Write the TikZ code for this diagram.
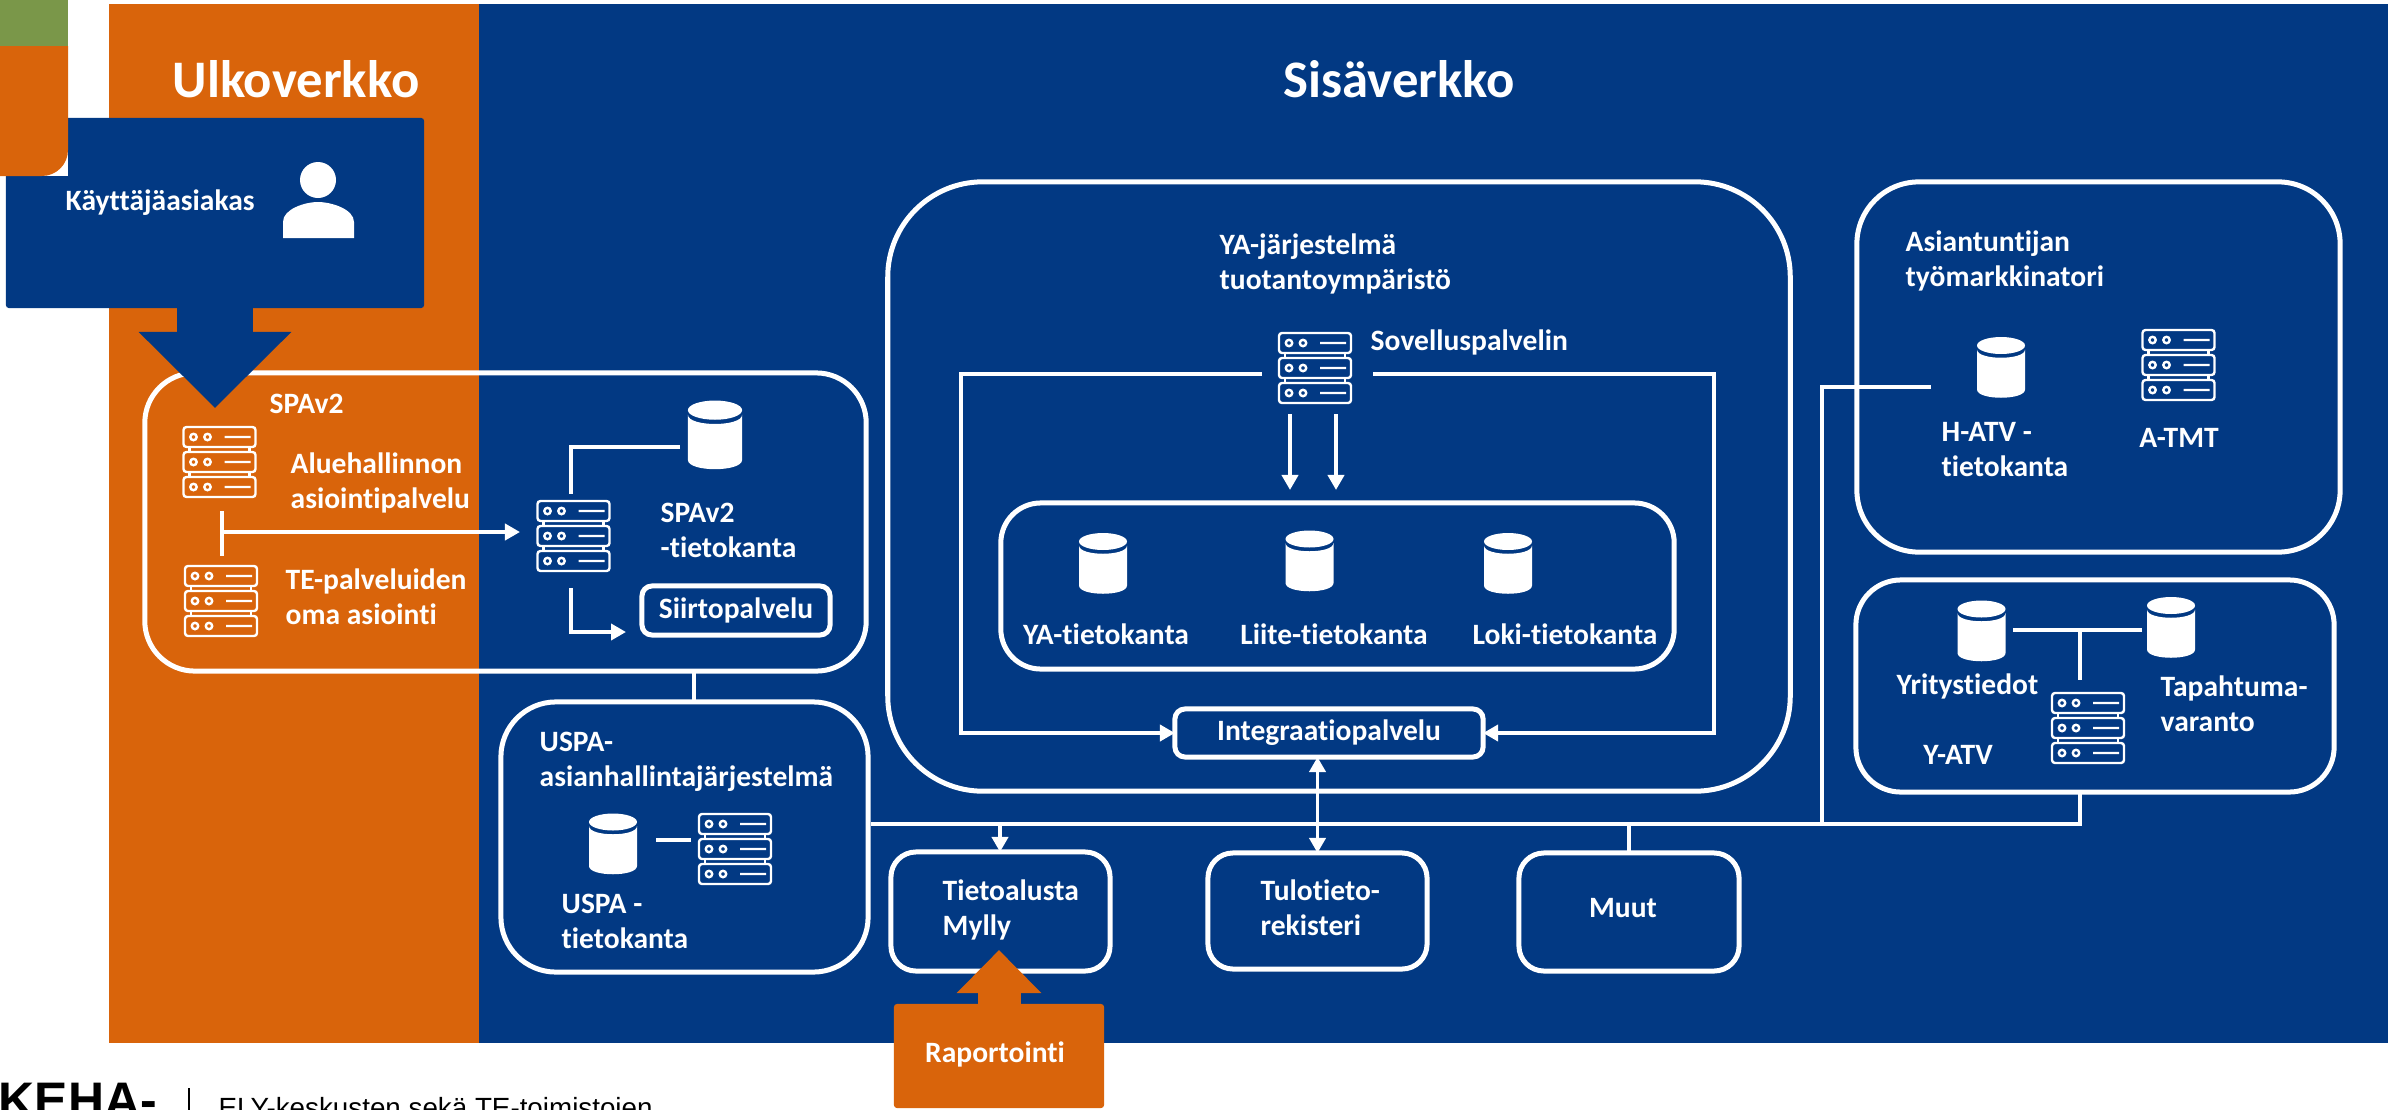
\documentclass[tikz,border=0pt]{standalone}
\usepackage{fontspec}
\setmainfont[Ligatures=NoCommon]{Carlito}
\newfontfamily\logofont{Liberation Sans}
\usepackage{xcolor}
\usepackage{tikz}
\usetikzlibrary{arrows.meta}
\definecolor{kehablue}{RGB}{2,57,131}
\definecolor{kehaorange}{RGB}{217,100,11}
\definecolor{kehagreen}{RGB}{122,151,73}
\tikzset{
		panel/.style={inner sep=0, outer sep=0},
		groupbox/.style={draw=white, line width=.05cm, inner sep=0, outer sep=0},
		titletext/.style={text=white, inner sep=0, font=\fontsize{15}{17}\selectfont\bfseries},
		lbl/.style={text=white, inner sep=0, align=left, anchor=west, font=\fontsize{8.4}{9.96}\selectfont\bfseries},
		clbl/.style={lbl, anchor=center, align=center},
		wire/.style={draw=white, line width=.038cm},
		rackline/.style={draw=white, line width=.024cm},
		bigarrow/.style={line width=.76cm, -{Triangle[length=.76cm, width=1.48cm]}},
		smallarrow/.style={line width=.43cm, -{Triangle[length=.43cm, width=.82cm]}},
		serverstack/.pic={
			\node[panel, minimum width=.72cm, minimum height=.73cm] (-box) {};
			\foreach \rack in {-25,0,25} {
				\draw[rackline, rounded corners=.03cm] (-36,\rack-10) rectangle (36,\rack+10);
				\draw[rackline] (-26,\rack) circle (3.2) (-12,\rack) circle (3.2) (5,\rack) -- (31,\rack);
			}
			\draw[rackline] (-30,-15) -- (-30,-10) (30,-15) -- (30,-10) (-30,10) -- (-30,15) (30,10) -- (30,15);
		},
		dbstack/.pic={
			\node[panel, minimum width=.48cm, minimum height=.61cm] (-box) {};
			\fill[white] (0,-22) ellipse [x radius=24, y radius=8.5];
			\fill[white] (-24,-18) .. controls (-24,-7) and (24,-7) .. (24,-18) -- (24,22) .. controls (24,33) and (-24,33) .. (-24,22) -- cycle;
		}
	}
\begin{document}
\begin{tikzpicture}[x=.01cm, y=-.01cm, >={Triangle[length=.15cm, width=.16cm]}]
		\path[use as bounding box] (0,0) rectangle (2394,1109);

		\node[panel, fill=kehaorange, minimum width=3.71cm,  minimum height=10.39cm] (ulko) at (294.5,523.5) {};
		\node[panel, fill=kehablue,   minimum width=19.07cm, minimum height=10.39cm] (sisa) at (1433.5,523.5) {};
		\node[titletext] (ulkotitle) at (296,79)  {Ulkoverkko};
		\node[titletext] (sisatitle) at (1399,79) {Sisäverkko};

		\node[groupbox, rounded corners=.5cm,  minimum width=7.21cm, minimum height=2.98cm] (spa)   at (505.5,522)  {};
		\node[panel, fill=kehablue, rounded corners=.03cm, minimum width=4.18cm, minimum height=1.9cm] (user) at (215,213) {};
		\node[groupbox, rounded corners=.1cm,  minimum width=1.88cm, minimum height=.49cm, lbl, anchor=center] (siirto) at (736,610.5) {Siirtopalvelu};
		\node[groupbox, rounded corners=.55cm, minimum width=3.67cm, minimum height=2.7cm]  (uspa)  at (684.5,837)  {};
		\node[groupbox, rounded corners=.95cm, minimum width=9.02cm, minimum height=6.09cm] (ya)    at (1339,486.5) {};
		\node[groupbox, rounded corners=.4cm,  minimum width=6.73cm, minimum height=1.66cm] (yadb)  at (1337.5,586) {};
		\node[groupbox, rounded corners=.1cm,  minimum width=3.08cm, minimum height=.48cm, lbl, anchor=center] (integ) at (1329,733) {Integraatiopalvelu};
		\node[groupbox, rounded corners=.62cm, minimum width=4.83cm, minimum height=3.7cm]  (asian) at (2098.5,367) {};
		\node[groupbox, rounded corners=.45cm, minimum width=4.78cm, minimum height=2.12cm] (yatv)  at (2095,686)   {};
		\node[groupbox, rounded corners=.25cm, minimum width=2.19cm, minimum height=1.19cm] (mylly) at (1000.5,911.5) {};
		\node[groupbox, rounded corners=.25cm, minimum width=2.19cm, minimum height=1.16cm] (tulo)  at (1317.5,911) {};
		\node[groupbox, rounded corners=.25cm, minimum width=2.2cm,  minimum height=1.18cm] (muut)  at (1629,912)   {};
		\node[panel, fill=kehaorange, rounded corners=.03cm, minimum width=2.1cm, minimum height=1.04cm] (rap) at (999,1056) {};

		\fill[white] (0,0) rectangle (68,176);
		\fill[kehaorange] (0,46) -- (68,46) [rounded corners=.26cm] -- (68,176) [sharp corners] -- (0,176) -- cycle;
		\fill[kehagreen] (0,0) rectangle (68,46);

		\fill[white] (318,180) ellipse [x radius=18, y radius=18];
		\fill[white] (283,238) -- (283,222) .. controls (283,209) and (305,202) .. (318,202) .. controls (331,202) and (354,209) .. (354,222) -- (354,238) -- cycle;

		\pic (srvalue)  at (219.5,462) {serverstack};
		\pic (srvte)    at (221,601)   {serverstack};
		\pic (srvspa)   at (573.5,536) {serverstack};
		\pic (srvuspa)  at (735,849)   {serverstack};
		\pic (srvsov)   at (1315,368)  {serverstack};
		\pic (srvatmt)  at (2178.5,365) {serverstack};
		\pic (srvyatv)  at (2088,728)  {serverstack};

		\pic[scale=1.13] (dbspa)  at (715,435)    {dbstack};
		\pic (dbuspa)  at (613,844)    {dbstack};
		\pic (dbya)    at (1103,563.5) {dbstack};
		\pic (dbliite) at (1309.5,561) {dbstack};
		\pic (dbloki)  at (1508,563.5) {dbstack};
		\pic (dbhatv)  at (2001,367.5) {dbstack};
		\pic (dbyrit)  at (1981.5,631) {dbstack};
		\pic (dbtapa)  at (2171,627.5) {dbstack};

		\node[lbl]  (userlbl)  at (65,203)     {Käyttäjäasiakas};
		\node[lbl]  (spalbl)   at (269,404)    {SPAv2};
		\node[lbl]  (aluelbl)  at (290,483)    {Aluehallinnon\\asiointipalvelu};
		\node[lbl]  (telbl)    at (285,597)    {TE-palveluiden\\oma asiointi};
		\node[lbl]  (spadblbl) at (660,530)    {SPAv2\\-tietokanta};
		\node[lbl]  (uspalbl)  at (539,761.5)  {USPA-\\asianhallintajärjestelmä};
		\node[lbl]  (uspadb)   at (561,921.5)  {USPA -\\tietokanta};
		\node[lbl]  (yalbl)    at (1219,263.5) {YA-järjestelmä\\tuotantoympäristö};
		\node[lbl]  (sovlbl)   at (1370,342.5) {Sovelluspalvelin};
		\node[clbl] (yalbl2)   at (1106,634)   {YA-tietokanta};
		\node[clbl] (liitelbl) at (1334,634)   {Liite-tietokanta};
		\node[clbl] (lokilbl)  at (1565,634)   {Loki-tietokanta};
		\node[lbl]  (asianlbl) at (1905,260.5) {Asiantuntijan\\työmarkkinatori};
		\node[lbl]  (hatvlbl)  at (1941,450)   {H-ATV -\\tietokanta};
		\node[clbl] (atmtlbl)  at (2179,438)   {A-TMT};
		\node[lbl]  (yritlbl)  at (1896,686)   {Yritystiedot};
		\node[lbl]  (tapalbl)  at (2160,703.5) {Tapahtuma-\\varanto};
		\node[clbl] (yatvlbl)  at (1958,755)   {Y-ATV};
		\node[lbl]  (myllylbl) at (942,910)    {Tietoalusta\\Mylly};
		\node[lbl]  (tulolbl)  at (1260,907.5) {Tulotieto-\\rekisteri};
		\node[clbl] (muutlbl)  at (1623,908)   {Muut};
		\node[clbl] (raplbl)   at (995,1054)   {Raportointi};

		\coordinate (spatip)   at (215,408);
		\coordinate (mytip)    at (999,950);
		\coordinate (teetop)   at (222,511);
		\coordinate (teebot)   at (222,556);
		\coordinate (teemid)   at (222,532);
		\coordinate (srvin)    at (520,532);
		\coordinate (dbleft)   at (680,447);
		\coordinate (dbdown)   at (571,494);
		\coordinate (sirtop)   at (571,588);
		\coordinate (sirin)    at (626,632);
		\coordinate (spastem)  at (694,671);
		\coordinate (sovleft)  at (1262,374);
		\coordinate (sovright) at (1373,374);
		\coordinate (leftup)   at (961,374);
		\coordinate (rightup)  at (1714,374);
		\coordinate (dropa)    at (1290,414);
		\coordinate (dropb)    at (1336,414);
		\coordinate (dropaend) at (1290,490);
		\coordinate (dropbend) at (1336,490);
		\coordinate (busleft)  at (871,824);
		\coordinate (busright) at (2080,824);
		\coordinate (busmylly) at (1000,824);
		\coordinate (busmuut)  at (1629,824);
		\coordinate (bushatv)  at (1822,824);
		\coordinate (hatvin)   at (1931,387);
		\coordinate (yritin)   at (2013,630);
		\coordinate (tapain)   at (2142,630);
		\coordinate (yatvtee)  at (2080,630);
		\coordinate (yatvtop)  at (2080,680);
		\coordinate (uspalink) at (656,840);
		\coordinate (uspalinb) at (691,840);
		\coordinate (divtop)   at (189,1088);

		\draw[kehablue, bigarrow]     (user.south) -- (spatip);
		\draw[kehaorange, smallarrow] (rap.north)  -- (mytip);

		\draw[wire]     (teetop) -- (teebot);
		\draw[wire, ->] (teemid) -- (srvin);
		\draw[wire]     (dbleft) -- (dbleft -| dbdown) -- (dbdown);
		\draw[wire, ->] (sirtop) -- (sirtop |- sirin) -- (sirin);
		\draw[wire]     (spastem) -- (spastem |- uspa.north);
		\draw[wire]     (uspalink) -- (uspalinb);

		\draw[wire, ->] (sovleft)  -- (leftup)  -- (leftup |- integ.west)  -- (integ.west);
		\draw[wire, ->] (sovright) -- (rightup) -- (rightup |- integ.east) -- (integ.east);
		\draw[wire, ->] (dropa) -- (dropaend);
		\draw[wire, ->] (dropb) -- (dropbend);
		\draw[wire, <->] (integ.south -| tulo.north) -- (tulo.north);

		\draw[wire]     (busleft) -- (busright) -- (busright |- yatv.south);
		\draw[wire, ->] (busmylly) -- (busmylly |- mylly.north);
		\draw[wire]     (busmuut) -- (muut.north);
		\draw[wire]     (bushatv) -- (bushatv |- hatvin) -- (hatvin);
		\draw[wire]     (yritin) -- (tapain);
		\draw[wire]     (yatvtee) -- (yatvtop);

		\begin{scope}
			\clip (0,1060) rectangle (2394,1109);
			\node[inner sep=0, anchor=base west, font=\fontsize{14.2}{16}\selectfont\logofont\bfseries] (keha) at (-2,1117) {KEHA-};
			\node[inner sep=0, anchor=base west, font=\fontsize{7.9}{9}\selectfont\logofont] (elylbl) at (218,1117) {ELY-keskusten sekä TE-toimistojen};
			\draw[black, line width=.028cm] (divtop) -- (divtop |- elylbl.south);
		\end{scope}
	\end{tikzpicture}
\end{document}
